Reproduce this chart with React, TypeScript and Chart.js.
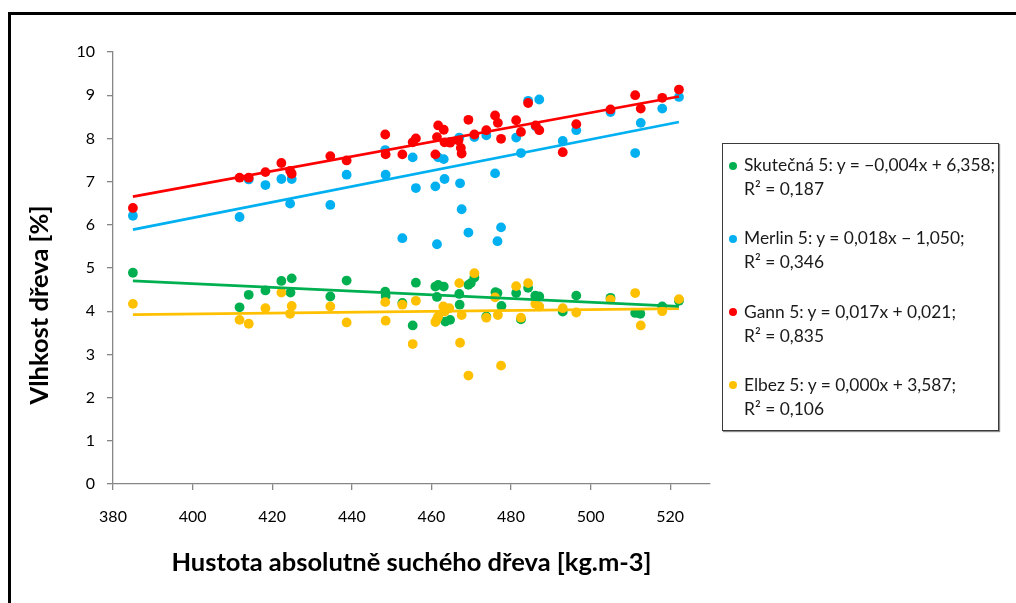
import { useEffect, useRef } from "react";
import { Chart, registerables } from "chart.js";

Chart.register(...registerables);

// ---- Data ----
const xTickValues = [380, 400, 420, 440, 460, 480, 500, 520];
const yTickValues = [0, 1, 2, 3, 4, 5, 6, 7, 8, 9, 10];

const xTitle = "Hustota absolutně suchého dřeva [kg.m-3]";
const yTitle = "Vlhkost dřeva [%]";

// [density, moisture]
const skutecna5: [number, number][] = [
  [385.0, 4.89], [411.8, 4.09], [414.1, 4.38], [418.3, 4.48], [422.3, 4.70], [424.6, 4.43],
  [424.9, 4.76], [434.6, 4.34], [438.7, 4.71], [448.4, 4.45], [448.5, 4.35], [452.7, 4.19],
  [455.3, 3.67], [456.1, 4.66], [461.0, 4.57], [461.4, 4.33], [461.7, 4.61], [463.1, 4.57],
  [463.5, 3.76], [464.7, 3.80], [467.0, 4.40], [467.1, 4.15], [469.3, 4.61], [469.9, 4.65],
  [470.8, 4.78], [473.8, 3.88], [476.1, 4.44], [476.6, 4.42], [477.6, 4.12], [481.3, 4.42],
  [482.5, 3.81], [484.3, 4.54], [486.1, 4.36], [487.1, 4.34], [493.0, 3.99], [496.4, 4.36],
  [505.0, 4.31], [511.2, 3.96], [512.5, 3.94], [518.0, 4.11], [522.2, 4.24],
];

const merlin5: [number, number][] = [
  [385.0, 6.21], [411.8, 6.18], [414.1, 7.05], [418.3, 6.92], [422.3, 7.06], [424.5, 6.49],
  [424.9, 7.06], [434.6, 6.46], [438.7, 7.16], [448.4, 7.73], [448.5, 7.16], [452.7, 5.69],
  [455.3, 7.56], [456.1, 6.85], [461.0, 6.89], [461.4, 5.55], [461.7, 7.56], [463.1, 7.52],
  [463.3, 7.06], [464.7, 7.92], [467.0, 8.02], [467.2, 6.96], [467.6, 6.36], [469.3, 5.82],
  [470.8, 8.03], [473.8, 8.07], [476.0, 7.19], [476.6, 5.62], [477.5, 5.94], [481.3, 8.02],
  [482.5, 7.66], [484.3, 8.87], [486.2, 8.28], [487.1, 8.90], [493.0, 7.94], [496.4, 8.19],
  [505.0, 8.61], [511.2, 7.66], [512.6, 8.36], [518.0, 8.69], [522.2, 8.96],
];

const gann5: [number, number][] = [
  [385.0, 6.39], [411.8, 7.09], [414.1, 7.09], [418.3, 7.22], [422.3, 7.43], [424.5, 7.25],
  [424.9, 7.18], [434.6, 7.59], [438.7, 7.49], [448.4, 8.09], [448.5, 7.63], [452.7, 7.63],
  [455.3, 7.91], [456.1, 8.00], [461.0, 7.63], [461.4, 8.03], [461.7, 8.30], [463.1, 8.20],
  [463.3, 7.91], [464.7, 7.90], [466.8, 7.95], [467.4, 7.78], [467.6, 7.65], [469.3, 8.43],
  [470.8, 8.09], [473.8, 8.19], [476.0, 8.53], [476.7, 8.36], [477.5, 7.99], [481.3, 8.42],
  [482.5, 8.15], [484.3, 8.82], [486.2, 8.30], [487.1, 8.19], [493.0, 7.68], [496.4, 8.33],
  [505.0, 8.67], [511.2, 9.00], [512.6, 8.69], [518.0, 8.94], [522.2, 9.13],
];

const elbez5: [number, number][] = [
  [385.0, 4.17], [411.8, 3.80], [414.1, 3.71], [418.3, 4.07], [422.3, 4.43], [424.5, 3.94],
  [424.9, 4.12], [434.6, 4.11], [438.7, 3.74], [448.4, 4.21], [448.5, 3.78], [452.7, 4.15],
  [455.3, 3.24], [456.1, 4.24], [461.0, 3.75], [461.4, 3.82], [461.7, 3.88], [463.0, 4.11],
  [463.3, 3.99], [464.5, 4.07], [467.0, 4.65], [467.2, 3.27], [467.6, 3.91], [469.3, 2.51],
  [470.8, 4.88], [473.8, 3.85], [476.0, 4.32], [476.7, 3.91], [477.5, 2.74], [481.3, 4.58],
  [482.5, 3.85], [484.3, 4.65], [486.1, 4.17], [487.1, 4.11], [493.0, 4.07], [496.4, 3.97],
  [505.0, 4.27], [511.2, 4.42], [512.6, 3.67], [518.0, 4.00], [522.2, 4.28],
];

// Linear trend lines: value at the first and last density
const trendX = [385.0, 522.2];
const skutecnaTrend = [4.70, 4.11];
const merlinTrend = [5.89, 8.38];
const gannTrend = [6.65, 8.97];
const elbezTrend = [3.92, 4.06];

const legendLines: [string, string][] = [
  ["Skutečná 5: y = −0,004x + 6,358;", "R² = 0,187"],
  ["Merlin 5: y = 0,018x − 1,050;", "R² = 0,346"],
  ["Gann 5: y = 0,017x + 0,021;", "R² = 0,835"],
  ["Elbez 5: y = 0,000x + 3,587;", "R² = 0,106"],
];

// ---- Styles ----
const COLORS = ["#00B050", "#00B0F0", "#FF0000", "#FFC000"];
const AXIS_GRAY = "#868686";
const FONT = "Lato, 'Noto Sans', sans-serif";

const toXY = (pts: [number, number][]) => pts.map(([x, y]) => ({ x, y }));
const trend = (ys: number[]) => trendX.map((x, i) => ({ x, y: ys[i] }));

const titlesPlugin = {
  id: "axisTitles",
  afterDraw(chart: any) {
    const { ctx, chartArea } = chart;
    ctx.save();
    ctx.fillStyle = "#000";
    ctx.font = `bold 25.5px ${FONT}`;
    ctx.textAlign = "center";
    ctx.textBaseline = "alphabetic";
    ctx.fillText(xTitle, (chartArea.left + chartArea.right) / 2, 571);
    ctx.translate(48, 305);
    ctx.rotate(-Math.PI / 2);
    ctx.fillText(yTitle, 0, 0);
    ctx.restore();
  },
};

export default function App() {
  const canvasRef = useRef<HTMLCanvasElement | null>(null);

  useEffect(() => {
    if (!canvasRef.current) return;
    const series = [skutecna5, merlin5, gann5, elbez5];
    const trends = [skutecnaTrend, merlinTrend, gannTrend, elbezTrend];
    const names = ["Skutečná 5", "Merlin 5", "Gann 5", "Elbez 5"];
    const scatterSets = series.map((pts, i) => ({
      type: "scatter" as const,
      label: names[i],
      data: toXY(pts),
      backgroundColor: COLORS[i],
      borderColor: COLORS[i],
      borderWidth: 0,
      pointRadius: 4.9,
      pointHoverRadius: 4.9,
      order: 5 - i,
    }));
    const trendSets = trends.map((ys, i) => ({
      type: "line" as const,
      label: names[i] + " trend",
      data: trend(ys),
      borderColor: COLORS[i],
      borderWidth: 2.75,
      pointRadius: 0,
      fill: false,
      order: 0,
    }));

    const chart = new Chart(canvasRef.current, {
      type: "scatter",
      data: { datasets: [...scatterSets, ...trendSets] as any },
      options: {
        animation: false,
        responsive: false,
        events: [],
        layout: { padding: { left: 0, top: 52, right: 306, bottom: 0 } },
        plugins: {
          legend: { display: false },
          tooltip: { enabled: false },
        },
        scales: {
          x: {
            type: "linear",
            min: 380,
            max: 530,
            afterFit: (scale: any) => {
              scale.height = 119;
            },
            afterBuildTicks: (scale: any) => {
              scale.ticks = xTickValues.map((v) => ({ value: v }));
            },
            ticks: {
              stepSize: 20,
              includeBounds: false,
              color: "#000",
              font: { family: FONT, size: 16 },
              padding: 17,
              maxRotation: 0,
            },
            grid: {
              drawOnChartArea: false,
              drawTicks: true,
              tickLength: 6,
              color: AXIS_GRAY,
              lineWidth: 1.3,
            },
            border: { color: AXIS_GRAY, width: 1.3 },
          },
          y: {
            type: "linear",
            min: 0,
            max: 10,
            afterFit: (scale: any) => {
              scale.width = 113;
            },
            afterBuildTicks: (scale: any) => {
              scale.ticks = yTickValues.map((v) => ({ value: v }));
            },
            ticks: {
              stepSize: 1,
              color: "#000",
              font: { family: FONT, size: 16 },
              padding: 12,
            },
            grid: {
              drawOnChartArea: false,
              drawTicks: true,
              tickLength: 6,
              color: AXIS_GRAY,
              lineWidth: 1.3,
            },
            border: { color: AXIS_GRAY, width: 1.3 },
          },
        },
      },
      plugins: [titlesPlugin],
    });
    return () => chart.destroy();
  }, []);

  const entryTops = [9.3, 82.4, 155.5, 228.6];

  return (
    <div
      style={{
        position: "absolute",
        left: 0,
        top: 0,
        width: 1016,
        height: 603,
        overflow: "hidden",
        background: "#fff",
      }}
    >
      <div
        style={{
          position: "absolute",
          left: 8,
          top: 12,
          width: 1100,
          height: 700,
          border: "3px solid #000",
          boxSizing: "border-box",
        }}
      />
      <canvas
        ref={canvasRef}
        width={1016}
        height={603}
        style={{ position: "absolute", left: 0, top: 0, display: "block" }}
      />
      <div
        style={{
          position: "absolute",
          left: 722,
          top: 143,
          width: 277,
          height: 288,
          border: "1px solid #3a3a3a",
          boxSizing: "border-box",
          boxShadow: "1px 1px 1px rgba(0,0,0,0.45)",
          background: "#fff",
          fontFamily: FONT,
          fontSize: 17.4,
          lineHeight: "24px",
          color: "#1a1a1a",
        }}
      >
        {legendLines.map((lines, i) => (
          <div key={i} style={{ position: "absolute", left: 0, top: entryTops[i], width: 275 }}>
            <span
              style={{
                position: "absolute",
                left: 5.7,
                top: 8.7,
                width: 8,
                height: 8,
                borderRadius: "50%",
                background: COLORS[i],
              }}
            />
            <div style={{ marginLeft: 21, whiteSpace: "nowrap" }}>{lines[0]}</div>
            <div style={{ marginLeft: 21, whiteSpace: "nowrap" }}>{lines[1]}</div>
          </div>
        ))}
      </div>
    </div>
  );
}
